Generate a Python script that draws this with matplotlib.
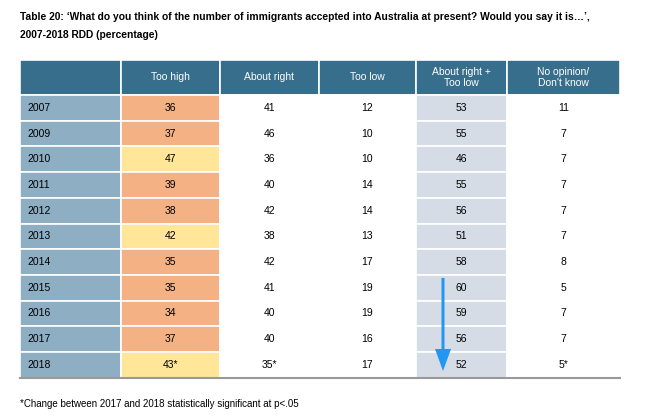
import matplotlib.pyplot as plt
from matplotlib.patches import Rectangle, FancyArrow

plt.rcParams['font.family'] = ['Liberation Sans', 'DejaVu Sans']

years = ['2007', '2009', '2010', '2011', '2012', '2013', '2014', '2015', '2016', '2017', '2018']
too_high = ['36', '37', '47', '39', '38', '42', '35', '35', '34', '37', '43*']
about_right = ['41', '46', '36', '40', '42', '38', '42', '41', '40', '40', '35*']
too_low = ['12', '10', '10', '14', '14', '13', '17', '19', '19', '16', '17']
right_plus_low = ['53', '55', '46', '55', '56', '51', '58', '60', '59', '56', '52']
no_opinion = ['11', '7', '7', '7', '7', '7', '8', '5', '7', '7', '5*']
headers = ['', 'Too high', 'About right', 'Too low', 'About right +\nToo low', 'No opinion/\nDon\'t know']
yellow_years = ['2010', '2013', '2018']

# column edges in pixels
col_x = [20, 121, 220, 319, 416, 507, 620]
head_top, head_bot = 60, 95
row_h = 25.7

HEAD = '#376E8B'
YEARC = '#8EAEC3'
ORANGE = '#F4B183'
YELLOW = '#FFE699'
GREY = '#D6DCE5'

fig = plt.figure(figsize=(6.59, 4.18), dpi=100)
ax = fig.add_axes([0, 0, 1, 1])
ax.set_xlim(0, 659)
ax.set_ylim(418, 0)
ax.axis('off')

ax.text(20, 17, "Table 20: \u2018What do you think of the number of immigrants accepted into Australia at present? Would you say it is\u2026\u2019,",
        fontsize=7.4, fontweight='bold', va='center', ha='left')
ax.text(20, 35, "2007-2018 RDD (percentage)", fontsize=7.4, fontweight='bold', va='center', ha='left')

for c in range(6):
    x0, x1 = col_x[c], col_x[c + 1]
    ax.add_patch(Rectangle((x0, head_top), x1 - x0, head_bot - head_top, fc=HEAD, ec='white', lw=1.2))
    ax.text((x0 + x1) / 2, (head_top + head_bot) / 2, headers[c], color='white', fontsize=7.5,
            ha='center', va='center', linespacing=1.1)

cols = [years, too_high, about_right, too_low, right_plus_low, no_opinion]
for r, yr in enumerate(years):
    y0 = head_bot + r * row_h
    for c in range(6):
        x0, x1 = col_x[c], col_x[c + 1]
        if c == 0:
            fc = YEARC
        elif c == 1:
            fc = YELLOW if yr in yellow_years else ORANGE
        elif c == 4:
            fc = GREY
        else:
            fc = 'white'
        ax.add_patch(Rectangle((x0, y0), x1 - x0, row_h, fc=fc, ec='white', lw=1.2))
        if c == 0:
            ax.text(x0 + 7, y0 + row_h / 2, cols[c][r], fontsize=7.5, ha='left', va='center')
        else:
            ax.text((x0 + x1) / 2, y0 + row_h / 2, cols[c][r], fontsize=7.5, ha='center', va='center')

bottom = head_bot + len(years) * row_h
ax.plot([20, 620], [bottom, bottom], color='#999999', lw=1.5)

# arrow showing the drop from 2015 to 2018
ax.add_patch(FancyArrow(443, head_bot + 7 * row_h + 3, 0, 3 * row_h + 16, width=3, head_width=16,
                        head_length=22, length_includes_head=True, fc='#2196F3', ec='none'))

ax.text(20, 404, "*Change between 2017 and 2018 statistically significant at p<.05", fontsize=7, ha='left', va='center')

fig.savefig('out.png', dpi=100)
